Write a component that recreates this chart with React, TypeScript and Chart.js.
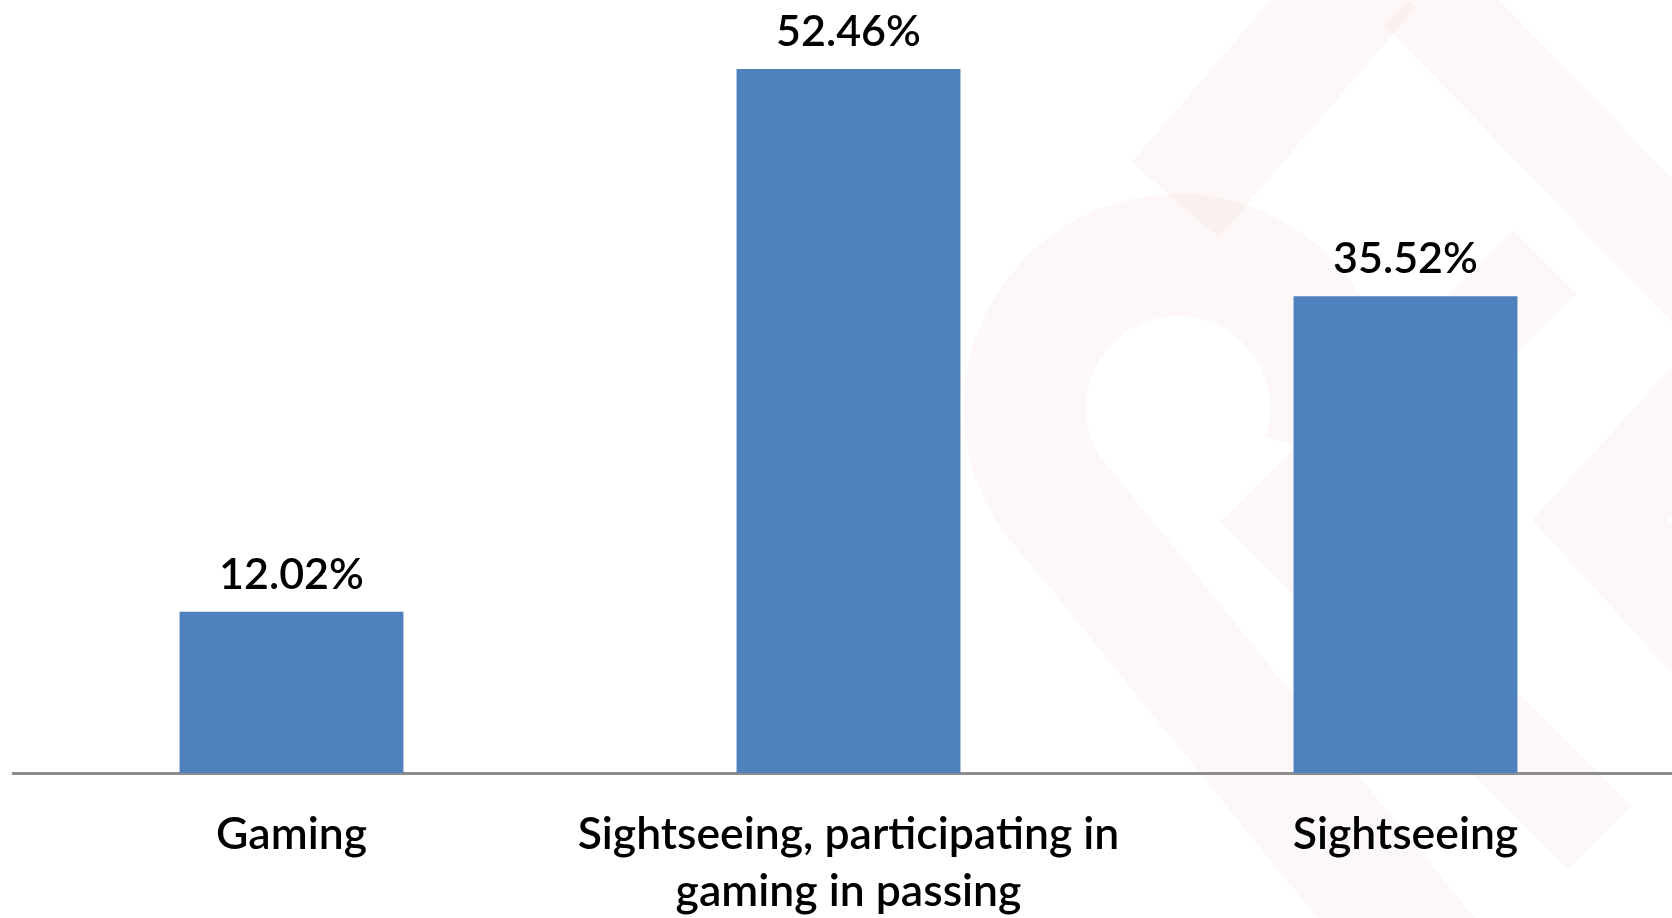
import React, { useEffect, useRef } from "react";
import { Chart, registerables } from "chart.js";

Chart.register(...registerables);

// Trip purpose shares (%)
const categories: (string | string[])[] = [
  "Gaming",
  ["Sightseeing, participating in", "gaming in passing"],
  "Sightseeing",
];
const shares: number[] = [12.02, 52.46, 35.52];

const BAR_COLOR = "#4f81bd";
const FONT_FAMILY = "Lato, 'Open Sans', sans-serif";
const VALUE_FONT_SIZE = 43;
const TICK_FONT_SIZE = 44.5;
const FONT_WEIGHT = 600;

// Faint background emblem painted behind the chart
const emblemPlugin = {
  id: "emblem",
  beforeDraw(chart: Chart) {
    const { ctx } = chart;
    ctx.save();
    ctx.strokeStyle = "rgba(220, 140, 140, 0.07)";
    ctx.lineCap = "butt";
    ctx.lineJoin = "miter";

    // ring with a tail heading down-right
    ctx.lineWidth = 122;
    ctx.beginPath();
    ctx.moveTo(1026 + 420, 560 + 420);
    ctx.lineTo(1070, 516);
    ctx.arc(1178, 408, 153, 0.75 * Math.PI, 2.1 * Math.PI, false);
    ctx.stroke();

    // upper diagonal band
    ctx.lineWidth = 115;
    ctx.beginPath();
    ctx.moveTo(1372, -30);
    ctx.lineTo(1175, 200);
    ctx.stroke();

    // top-right band heading down-right
    ctx.lineWidth = 100;
    ctx.beginPath();
    ctx.moveTo(1420, -10);
    ctx.lineTo(1720, 300);
    ctx.stroke();

    // chevron
    ctx.lineWidth = 90;
    ctx.beginPath();
    ctx.moveTo(1545, 262);
    ctx.lineTo(1284, 522);
    ctx.lineTo(1600, 838);
    ctx.stroke();

    // outer chevron on the far right
    ctx.lineWidth = 100;
    ctx.beginPath();
    ctx.moveTo(1800, 300);
    ctx.lineTo(1600, 520);
    ctx.lineTo(1800, 740);
    ctx.stroke();

    ctx.restore();
  },
};

// Percentage labels above each bar
const valueLabelPlugin = {
  id: "valueLabels",
  afterDatasetsDraw(chart: Chart) {
    const { ctx } = chart;
    const meta = chart.getDatasetMeta(0);
    const values = chart.data.datasets[0].data as number[];
    ctx.save();
    ctx.fillStyle = "#000";
    ctx.font = `${FONT_WEIGHT} ${VALUE_FONT_SIZE}px ${FONT_FAMILY}`;
    ctx.textAlign = "center";
    ctx.textBaseline = "alphabetic";
    meta.data.forEach((bar: any, i: number) => {
      ctx.fillText(`${values[i].toFixed(2)}%`, bar.x, bar.y - 23);
    });
    ctx.restore();
  },
};

export default function App() {
  const canvasRef = useRef<HTMLCanvasElement | null>(null);

  useEffect(() => {
    const canvas = canvasRef.current;
    if (!canvas) return;
    const chart = new Chart(canvas, {
      type: "bar",
      data: {
        labels: categories,
        datasets: [
          {
            data: shares,
            backgroundColor: BAR_COLOR,
            borderWidth: 0,
            categoryPercentage: 1,
            barPercentage: 0.402,
          },
        ],
      },
      options: {
        responsive: false,
        animation: false,
        devicePixelRatio: 1,
        layout: { padding: { left: 13, right: 0, top: 0, bottom: 0 } },
        plugins: {
          legend: { display: false },
          tooltip: { enabled: false },
        },
        scales: {
          x: {
            z: 1,
            grid: { display: false, drawTicks: false },
            border: { display: true, color: "#8c8c8c", width: 3 },
            ticks: {
              color: "#000",
              padding: 33,
              maxRotation: 0,
              autoSkip: false,
              font: {
                family: FONT_FAMILY,
                size: TICK_FONT_SIZE,
                weight: FONT_WEIGHT as any,
                lineHeight: 57 / TICK_FONT_SIZE,
              },
            },
          },
          y: {
            display: false,
            min: 0,
            max: 57.6,
          },
        },
      },
      plugins: [emblemPlugin, valueLabelPlugin],
    });
    return () => chart.destroy();
  }, []);

  return (
    <div
      style={{
        position: "absolute",
        left: 0,
        top: 0,
        width: 1672,
        height: 918,
        overflow: "hidden",
        background: "#fff",
      }}
    >
      <canvas ref={canvasRef} width={1684} height={953} style={{ display: "block" }} />
    </div>
  );
}
